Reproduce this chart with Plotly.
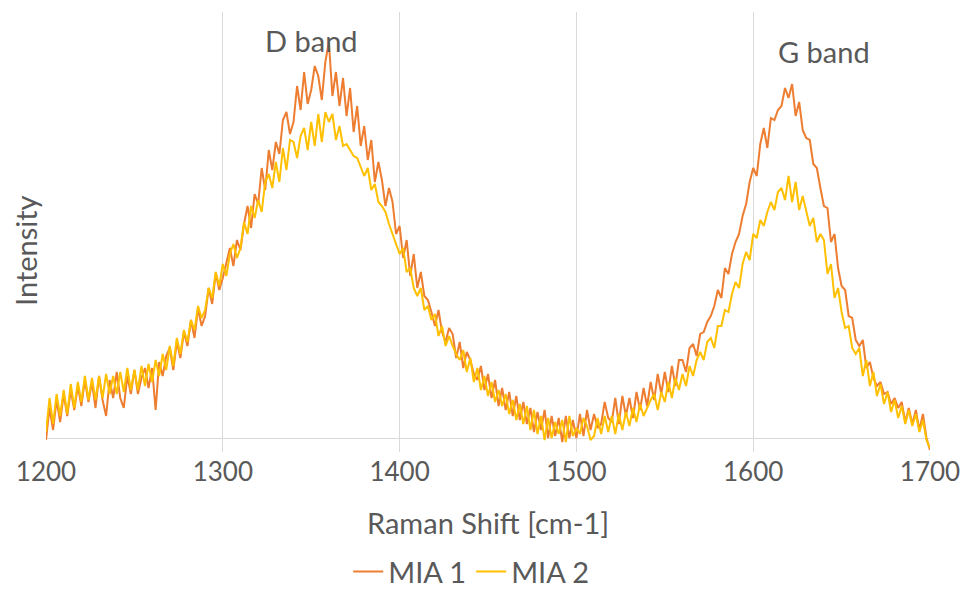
import plotly.graph_objects as go

# Raman shift sampled every 2 cm-1 from 1200 to 1700
raman_shift = list(range(1200, 1701, 2))

mia1 = [
    -2, 30, 8, 38, 16,
    44, 22, 48, 28, 52,
    32, 58, 36, 56, 30,
    62, 38, 22, 58, 40,
    66, 40, 30, 62, 44,
    68, 44, 60, 70, 50,
    70, 28, 76, 62, 82,
    90, 68, 96, 80, 106,
    92, 118, 100, 130, 112,
    122, 150, 134, 165, 148,
    160, 176, 190, 172, 198,
    188, 214, 232, 210, 244,
    234, 270, 248, 288, 268,
    296, 284, 318, 326, 304,
    316, 352, 328, 366, 334,
    348, 372, 362, 338, 376,
    396, 342, 366, 332, 360,
    322, 350, 306, 332, 292,
    312, 278, 298, 256, 276,
    258, 232, 250, 236, 204,
    212, 180, 198, 162, 184,
    150, 166, 142, 138, 126,
    112, 128, 106, 96, 110,
    104, 80, 96, 70, 86,
    78, 64, 58, 72, 48,
    64, 40, 58, 32, 50,
    28, 46, 22, 42, 18,
    36, 14, 30, 6, 26,
    8, 28, 0, 22, 2,
    20, -4, 22, 0, 18,
    0, 24, 2, 28, 8,
    24, 10, 14, 36, 20,
    16, 40, 14, 42, 22,
    40, 20, 46, 28, 50,
    32, 56, 38, 64, 44,
    66, 46, 72, 52, 78,
    78, 66, 90, 94, 82,
    104, 106, 116, 122, 132,
    148, 140, 170, 164, 184,
    196, 204, 222, 234, 256,
    270, 262, 294, 310, 290,
    320, 318, 328, 332, 350,
    340, 354, 322, 336, 308,
    300, 298, 274, 270, 250,
    232, 230, 196, 204, 170,
    152, 148, 122, 120, 98,
    92, 98, 70, 76, 60,
    52, 56, 44, 46, 34,
    40, 30, 36, 16, 30,
    14, 28, 8, 24, 0,
    -12,
]

mia2 = [
    6, 40, 14, 44, 22,
    48, 24, 54, 30, 56,
    36, 62, 38, 60, 38,
    62, 40, 64, 44, 62,
    44, 66, 46, 70, 48,
    68, 48, 72, 52, 74,
    56, 78, 62, 84, 68,
    92, 72, 100, 84, 108,
    96, 118, 108, 132, 120,
    128, 150, 140, 166, 152,
    174, 162, 184, 194, 180,
    190, 216, 204, 232, 220,
    238, 226, 256, 264, 250,
    276, 256, 290, 268, 298,
    296, 280, 302, 310, 288,
    316, 292, 324, 296, 326,
    316, 324, 298, 312, 292,
    294, 288, 282, 280, 270,
    262, 270, 248, 254, 236,
    232, 226, 214, 204, 192,
    184, 190, 166, 170, 150,
    142, 150, 128, 132, 118,
    124, 102, 112, 92, 102,
    92, 84, 78, 88, 66,
    80, 56, 70, 48, 62,
    42, 56, 36, 48, 32,
    44, 24, 38, 18, 34,
    14, 32, 8, 28, 4,
    22, -2, 20, 0, 16,
    4, 18, -4, 22, 2,
    10, 4, 20, 12, -2,
    2, 20, 4, 22, 6,
    22, 4, 24, 8, 26,
    12, 30, 16, 34, 22,
    30, 38, 44, 28, 46,
    36, 56, 40, 60, 48,
    64, 52, 72, 62, 78,
    86, 78, 96, 100, 90,
    112, 112, 128, 126, 144,
    156, 150, 174, 186, 178,
    204, 200, 218, 212, 226,
    236, 228, 246, 250, 238,
    262, 236, 256, 228, 242,
    226, 212, 220, 196, 204,
    198, 164, 174, 140, 150,
    126, 110, 112, 90, 84,
    90, 62, 78, 52, 66,
    42, 54, 34, 46, 26,
    38, 20, 32, 14, 28,
    12, 24, 6, 18, -2,
    -10,
]

assert len(mia1) == len(raman_shift) and len(mia2) == len(raman_shift)

series_names = ["MIA 1", "MIA 2"]
band_labels = ["D band", "G band"]
band_positions = [1350, 1640]
band_heights = [398, 387]

FONT = "Lato, 'Open Sans', sans-serif"
TEXT = "#595959"

fig = go.Figure()
fig.add_trace(go.Scatter(x=raman_shift, y=mia1, mode="lines", name=series_names[0],
                         line=dict(color="#ED7D31", width=2)))
fig.add_trace(go.Scatter(x=raman_shift, y=mia2, mode="lines", name=series_names[1],
                         line=dict(color="#FFC000", width=2)))

for lab, xp, yp in zip(band_labels, band_positions, band_heights):
    fig.add_annotation(x=xp, y=yp, xref="x", yref="y", text=lab, showarrow=False,
                       xanchor="center", yanchor="middle",
                       font=dict(family=FONT, size=29, color=TEXT))

fig.add_annotation(x=0.5, y=-0.161, xref="paper", yref="paper", text="Raman Shift [cm-1]",
                   showarrow=False, xanchor="center", yanchor="middle",
                   font=dict(family=FONT, size=29, color=TEXT))
fig.add_annotation(x=-0.0238, y=0.459, xref="paper", yref="paper", text="Intensity",
                   showarrow=False, textangle=-90, xanchor="center", yanchor="middle",
                   font=dict(family=FONT, size=29, color=TEXT))

# the page body adds an 8px offset, so the figure is shifted/shrunk to compensate
fig.update_layout(
    width=961, height=583,
    margin=dict(l=38, r=39, t=4, b=139, autoexpand=False),
    paper_bgcolor="white", plot_bgcolor="white",
    font=dict(family=FONT, color=TEXT),
    showlegend=True,
    legend=dict(orientation="h", x=0.482, xanchor="center", y=0.033, yanchor="middle",
                xref="container", yref="container",
                font=dict(family=FONT, size=29, color=TEXT), itemwidth=30,
                tracegroupgap=0),
)
fig.update_xaxes(range=[1200, 1700], dtick=100, tick0=1200, showgrid=True,
                 gridcolor="#D9D9D9", gridwidth=1, zeroline=False, showline=False,
                 ticks="", automargin=False, ticklabelstandoff=2,
                 tickfont=dict(family=FONT, size=26, color=TEXT))
fig.update_yaxes(range=[-14, 426], showgrid=False, showticklabels=False, zeroline=True,
                 zerolinecolor="#D9D9D9", zerolinewidth=1, showline=False, ticks="",
                 automargin=False)

fig.write_html("out.html")
